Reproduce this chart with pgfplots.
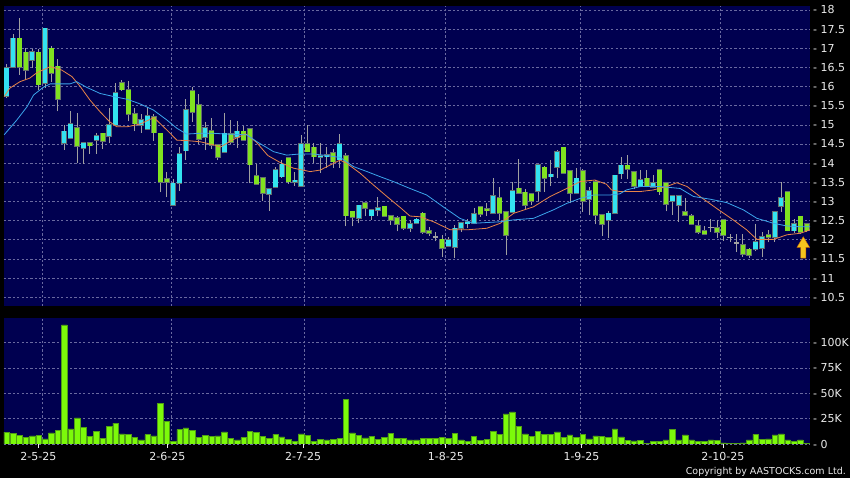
\documentclass[border=0pt]{standalone}
\usepackage{pgfplots}
\pgfplotsset{compat=1.18}
\usepackage{pgfplotstable}
\usepackage{fontspec}
\setmainfont{DejaVu Sans}
\definecolor{bgnavy}{RGB}{0,0,80}
\definecolor{upc}{RGB}{51,226,240}
\definecolor{downc}{RGB}{128,226,32}
\definecolor{wickc}{RGB}{160,160,160}
\definecolor{edgec}{RGB}{100,110,110}
\definecolor{gridc}{RGB}{105,105,160}
\definecolor{maor}{RGB}{232,132,72}
\definecolor{mabl}{RGB}{60,165,235}
\definecolor{volc}{RGB}{124,250,10}
\definecolor{voledge}{RGB}{80,160,20}
\definecolor{txt}{RGB}{235,235,235}
\definecolor{arrowy}{RGB}{245,195,30}

\pgfplotstableread{
i O H L C d
0 15.76 16.59 15.70 16.48 1
1 16.51 17.38 16.50 17.26 1
2 17.26 17.78 16.31 16.51 -1
3 16.89 17.00 16.18 16.42 -1
4 16.69 16.98 16.48 16.90 1
5 16.89 16.98 15.92 16.05 -1
6 16.09 17.53 15.96 17.52 1
7 17.00 17.05 16.13 16.35 -1
8 16.53 16.72 15.35 15.67 -1
9 14.52 15.00 14.35 14.83 1
10 14.65 15.35 14.63 15.02 1
11 14.92 15.31 14.00 14.44 -1
12 14.39 14.56 13.98 14.52 1
13 14.52 14.53 14.24 14.46 -1
14 14.61 14.80 14.24 14.71 1
15 14.78 14.80 14.37 14.58 -1
16 14.70 15.44 14.52 14.99 1
17 14.99 16.09 14.97 15.83 1
18 16.09 16.17 15.88 15.92 -1
19 15.92 16.15 15.09 15.28 -1
20 15.28 15.44 14.83 15.03 -1
21 15.00 15.28 14.80 15.13 1
22 14.89 15.46 14.87 15.24 1
23 15.21 15.28 14.59 14.80 -1
24 14.78 14.80 13.24 13.50 -1
25 13.59 13.76 13.11 13.50 -1
26 12.91 13.59 12.90 13.47 1
27 13.47 14.43 13.28 14.24 1
28 14.33 15.67 14.07 15.39 1
29 15.89 15.98 15.07 15.33 -1
30 15.52 15.80 14.50 14.63 -1
31 14.69 15.07 14.34 14.93 1
32 14.85 15.18 14.37 14.48 -1
33 14.48 14.50 14.07 14.15 -1
34 14.28 15.30 14.27 14.78 1
35 14.76 15.13 14.50 14.54 -1
36 14.69 15.11 14.40 14.83 1
37 14.83 14.98 14.58 14.60 -1
38 14.89 14.90 13.47 13.96 -1
39 13.67 13.98 13.44 13.46 -1
40 13.61 13.62 13.02 13.21 -1
41 13.20 13.35 12.76 13.33 1
42 13.37 13.90 13.35 13.83 1
43 13.65 14.09 13.62 13.97 1
44 14.13 14.15 13.46 13.52 -1
45 13.50 13.78 13.41 13.55 1
46 13.41 14.74 13.40 14.50 1
47 14.50 15.00 14.28 14.30 -1
48 14.41 14.52 14.00 14.17 -1
49 14.16 14.52 13.74 14.19 1
50 14.17 14.43 13.87 14.22 1
51 14.26 14.37 13.87 14.04 -1
52 14.09 14.77 13.87 14.50 1
53 14.19 14.26 12.35 12.63 -1
54 12.74 12.76 12.35 12.59 -1
55 12.57 12.92 12.43 12.90 1
56 12.96 12.97 12.61 12.83 -1
57 12.63 12.80 12.52 12.78 1
58 12.78 13.11 12.61 12.83 1
59 12.87 12.88 12.60 12.61 -1
60 12.63 12.64 12.39 12.52 -1
61 12.57 12.63 12.22 12.41 -1
62 12.61 12.63 12.26 12.30 -1
63 12.30 12.52 12.21 12.42 1
64 12.43 12.58 12.40 12.53 1
65 12.69 12.73 12.15 12.20 -1
66 12.24 12.34 12.10 12.17 -1
67 12.08 12.19 11.96 12.08 0
68 12.01 12.13 11.56 11.78 -1
69 11.84 12.06 11.80 11.99 1
70 11.80 12.39 11.52 12.30 1
71 12.31 12.47 12.21 12.45 1
72 12.42 12.55 12.30 12.46 1
73 12.43 12.82 12.42 12.67 1
74 12.85 12.88 12.60 12.66 -1
75 12.81 12.95 12.62 12.76 -1
76 12.69 13.60 12.67 13.15 1
77 13.10 13.39 12.52 12.70 -1
78 12.72 12.75 11.60 12.12 -1
79 12.72 13.52 12.70 13.28 1
80 13.34 14.10 13.20 13.21 -1
81 13.24 13.33 12.78 12.90 -1
82 13.19 13.22 12.90 13.00 -1
83 13.28 13.97 13.00 13.95 1
84 13.89 13.92 13.25 13.61 -1
85 13.65 14.08 13.40 13.71 1
86 13.89 14.35 13.60 14.29 1
87 14.41 14.42 13.72 13.74 -1
88 13.80 13.82 12.95 13.21 -1
89 13.21 13.87 13.20 13.60 1
90 13.80 13.85 12.73 13.00 -1
91 13.07 13.38 12.64 13.28 1
92 13.52 13.55 12.40 12.65 -1
93 12.65 12.67 12.10 12.41 -1
94 12.52 12.75 12.05 12.69 1
95 12.69 13.70 12.67 13.68 1
96 13.73 14.17 13.58 13.94 1
97 13.94 14.21 13.58 13.85 -1
98 13.77 13.80 13.32 13.40 -1
99 13.39 13.82 13.37 13.57 1
100 13.60 13.82 13.37 13.41 -1
101 13.37 13.70 13.35 13.49 1
102 13.83 13.85 13.17 13.26 -1
103 13.49 13.50 12.74 12.94 -1
104 13.00 13.15 12.65 13.14 1
105 12.91 13.15 12.46 13.14 1
106 12.72 13.10 12.62 12.64 -1
107 12.63 12.66 12.38 12.41 -1
108 12.37 12.52 12.15 12.20 -1
109 12.23 12.35 12.12 12.15 -1
110 12.32 12.55 12.19 12.32 0
111 12.32 12.52 12.05 12.20 -1
112 12.52 12.55 11.98 12.13 -1
113 12.06 12.15 11.94 12.06 0
114 11.91 12.14 11.68 11.91 0
115 11.87 12.15 11.55 11.63 -1
116 11.75 11.78 11.52 11.60 -1
117 11.75 12.40 11.70 11.95 1
118 11.78 12.20 11.55 12.08 1
119 12.13 12.25 11.93 12.06 -1
120 12.06 12.75 11.95 12.73 1
121 12.88 13.50 12.72 13.10 1
122 13.26 13.28 12.22 12.24 -1
123 12.24 12.55 12.17 12.41 1
124 12.61 12.63 12.15 12.20 -1
125 12.41 12.45 12.20 12.24 -1
}\candles

\pgfplotstableread{
i V
0 11.6
1 10.6
2 8.3
3 6.6
4 7.9
5 8.3
6 5.0
7 10.9
8 13.2
9 117.5
10 14.9
11 25.8
12 16.6
13 7.3
14 12.6
15 5.6
16 17.2
17 20.5
18 9.9
19 9.3
20 6.6
21 4.0
22 9.3
23 7.9
24 40.4
25 22.5
26 2.6
27 14.2
28 15.9
29 13.2
30 6.3
31 8.3
32 7.6
33 7.9
34 11.9
35 5.3
36 4.0
37 6.3
38 12.6
39 11.3
40 7.3
41 5.3
42 9.6
43 7.0
44 4.3
45 2.6
46 9.9
47 8.3
48 2.3
49 4.3
50 4.0
51 4.3
52 5.3
53 43.7
54 10.9
55 8.6
56 6.0
57 7.6
58 4.6
59 6.6
60 10.6
61 5.3
62 5.3
63 4.0
64 4.0
65 5.6
66 5.3
67 5.3
68 6.3
69 5.3
70 10.6
71 4.0
72 2.6
73 7.3
74 3.3
75 4.6
76 12.6
77 9.3
78 29.8
79 31.8
80 17.2
81 9.9
82 7.3
83 12.3
84 9.3
85 9.3
86 11.9
87 6.6
88 8.9
89 6.3
90 9.6
91 5.0
92 7.9
93 7.3
94 6.6
95 14.9
96 7.0
97 3.3
98 3.0
99 3.6
100 0.7
101 2.3
102 2.3
103 4.0
104 14.6
105 4.0
106 8.9
107 4.0
108 2.3
109 2.3
110 4.0
111 3.6
112 1.0
113 0.7
114 0.3
115 1.0
116 4.0
117 9.6
118 4.6
119 5.0
120 8.9
121 9.9
122 4.0
123 2.6
124 4.0
125 0.7
}\volumes

\begin{document}
\begin{tikzpicture}
\fill[black] (0pt,0pt) rectangle (850pt,478pt);

% ---------------- price panel ----------------
\begin{axis}[
  at={(4pt,172pt)}, anchor=south west,
  width=806pt, height=300pt, scale only axis,
  xmin=-0.42, xmax=125.5, ymin=10.271, ymax=18.104,
  axis background/.style={fill=bgnavy},
  axis line style={draw=none},
  xtick={5.5,25.7,46.5,68.5,89.6,111.5}, xticklabels={},
  ytick={10.5,11,11.5,12,12.5,13,13.5,14,14.5,15,15.5,16,16.5,17,17.5,18},
  yticklabels={- 10.5,- 11,- 11.5,- 12,- 12.5,- 13,- 13.5,- 14,- 14.5,- 15,- 15.5,- 16,- 16.5,- 17,- 17.5,- 18},
  yticklabel pos=right,
  major tick length=0pt,
  tick style={draw=none},
  yticklabel style={anchor=west, inner sep=0pt, xshift=3pt, text=txt, font=\fontsize{11}{12}\selectfont},
  xmajorgrids, ymajorgrids,
  grid style={draw=gridc, line width=0.6pt, dash pattern=on 2.2pt off 2.2pt},
]
% wicks: vertical segments from low to high
\addplot[forget plot, mark=none, draw=wickc, line width=0.9pt,
  quiver={u=0, v=\thisrow{H}-\thisrow{L}}]
  table[x=i, y=L] {\candles};
% body outlines
\addplot[forget plot, mark=none, draw=edgec, line width=5.6pt,
  restrict expr to domain={\thisrow{d}*\thisrow{d}}{0.5:1.5},
  quiver={u=0, v=\thisrow{C}-\thisrow{O}+0.04*\thisrow{d}}]
  table[x=i, y expr=\thisrow{O}-0.02*\thisrow{d}] {\candles};
% up bodies
\addplot[forget plot, mark=none, draw=upc, line width=4.4pt,
  restrict expr to domain={\thisrow{d}}{0.5:1.5},
  quiver={u=0, v=\thisrow{C}-\thisrow{O}}]
  table[x=i, y=O] {\candles};
% down bodies
\addplot[forget plot, mark=none, draw=downc, line width=4.4pt,
  restrict expr to domain={\thisrow{d}}{-1.5:-0.5},
  quiver={u=0, v=\thisrow{C}-\thisrow{O}}]
  table[x=i, y=O] {\candles};
% doji: short horizontal bars
\addplot[forget plot, mark=none, draw=wickc, line width=1.6pt,
  restrict expr to domain={\thisrow{d}}{-0.5:0.5},
  quiver={u=0.86, v=0}]
  table[x expr=\thisrow{i}-0.43, y=O] {\candles};

% moving averages
\addplot[maor, line width=0.8pt, mark=none] coordinates {
(-0.4,15.74) (0.5,15.96) (2.1,16.13) (3.6,16.22) (4.7,16.36) (6.8,16.52) (8.6,16.43) (10.2,16.26) (11.5,16.0) (13,15.65) (14.6,15.34) (16.1,15.08) (17.2,14.95) (18.8,14.95) (20.8,15.02) (23.0,15.19) (25,14.87) (26.6,14.6) (28.1,14.59) (30.2,14.56) (32.3,14.48) (33.4,14.42) (35.2,14.6) (37.3,14.77) (39.0,14.55) (40.8,14.2) (42.7,14.02) (44.8,13.87) (47.4,13.78) (49,13.82) (50.5,13.95) (52.1,14.08) (53.1,14.0) (55.2,13.74) (57.3,13.43) (59.4,13.13) (61.5,12.84) (63,12.62) (64.6,12.6) (66.7,12.47) (69.3,12.26) (71.9,12.26) (75,12.3) (77.1,12.43) (79.2,12.69) (82.3,12.86) (84.9,13.13) (87.5,13.34) (89.6,13.52) (91.9,13.56) (93.7,13.45) (94.5,13.3) (95.8,13.26) (99,13.26) (101,13.3) (103.1,13.39) (104.7,13.49) (106.3,13.39) (108.3,13.13) (110.9,12.82) (113.5,12.52) (115.6,12.26) (117.2,12.01) (119.8,12.01) (121.9,12.13) (124,12.17) (125.5,12.26)
};
\addplot[mabl, line width=0.8pt, mark=none] coordinates {
(-0.4,14.74) (1.6,15.13) (3.2,15.48) (4.2,15.78) (5.7,15.98) (6.8,16.07) (8.3,16.07) (9.9,16.07) (10.9,16.13) (12.5,15.98) (14.6,15.82) (16.7,15.74) (18.8,15.67) (20.8,15.55) (22.9,15.39) (25,15.13) (26.6,14.91) (28.1,14.76) (30.2,14.78) (32.3,14.78) (34.4,14.76) (37.5,14.74) (39.1,14.56) (41.7,14.3) (43.75,14.21) (45.8,14.24) (47.9,14.24) (50,14.2) (52.1,14.15) (54.2,13.91) (56.3,13.78) (58.3,13.65) (60.4,13.52) (63,13.34) (65.6,13.17) (68.2,12.86) (70.8,12.56) (72.9,12.43) (77.1,12.47) (79.2,12.52) (82.3,12.56) (85.4,12.78) (87.5,12.95) (89.6,13.08) (91.7,13.17) (94.3,13.17) (95.8,13.2) (96.8,13.3) (99,13.39) (102.1,13.39) (105.2,13.34) (107.3,13.13) (109.9,13.06) (112.5,12.97) (115.1,12.78) (117.2,12.56) (119.8,12.43) (121.9,12.36) (124,12.34) (125.5,12.34)
};
% marker arrow
\fill[arrowy, draw=orange!80!black, line width=0.4pt]
  (axis cs:124.45,12.08) -- (axis cs:125.45,11.80) -- (axis cs:124.85,11.80) -- (axis cs:124.85,11.52)
  -- (axis cs:124.05,11.52) -- (axis cs:124.05,11.80) -- (axis cs:123.45,11.80) -- cycle;
\end{axis}

% ---------------- volume panel ----------------
\begin{axis}[
  at={(4pt,34pt)}, anchor=south west,
  width=806pt, height=126pt, scale only axis,
  xmin=-0.42, xmax=125.5, ymin=0, ymax=124.3,
  axis background/.style={fill=bgnavy},
  axis line style={draw=none},
  xtick={4.95,25.1,46.3,68.6,89.8,111.9},
  xticklabels={2-5-25,2-6-25,2-7-25,1-8-25,1-9-25,2-10-25},
  xtick pos=bottom, xtick align=outside,
  xtick style={draw=txt, line width=0.8pt},
  major tick length=4pt,
  xticklabel style={text=txt, font=\fontsize{11}{12}\selectfont, yshift=-1pt},
  extra x ticks={5.5,25.7,46.5,68.5,89.6,111.5},
  extra x tick labels={},
  extra x tick style={grid=major, major tick length=0pt, tick style={draw=none}},
  ytick={0,25,50,75,100},
  yticklabels={- 0,- 25K,- 50K,- 75K,- 100K},
  yticklabel pos=right,
  ytick style={draw=none},
  yticklabel style={anchor=west, inner sep=0pt, xshift=3pt, text=txt, font=\fontsize{11}{12}\selectfont},
  ymajorgrids,
  grid style={draw=gridc, line width=0.6pt, dash pattern=on 2.2pt off 2.2pt},
]
\addplot[ybar, bar width=0.86, bar shift=0pt, fill=volc, draw=voledge, line width=0.5pt]
  table[x=i, y=V] {\volumes};
\end{axis}

\node[anchor=east, text=txt, font=\fontsize{9.5}{11}\selectfont, inner sep=0pt] at (846pt,6.5pt) {Copyright by AASTOCKS.com Ltd.};
\end{tikzpicture}
\end{document}
